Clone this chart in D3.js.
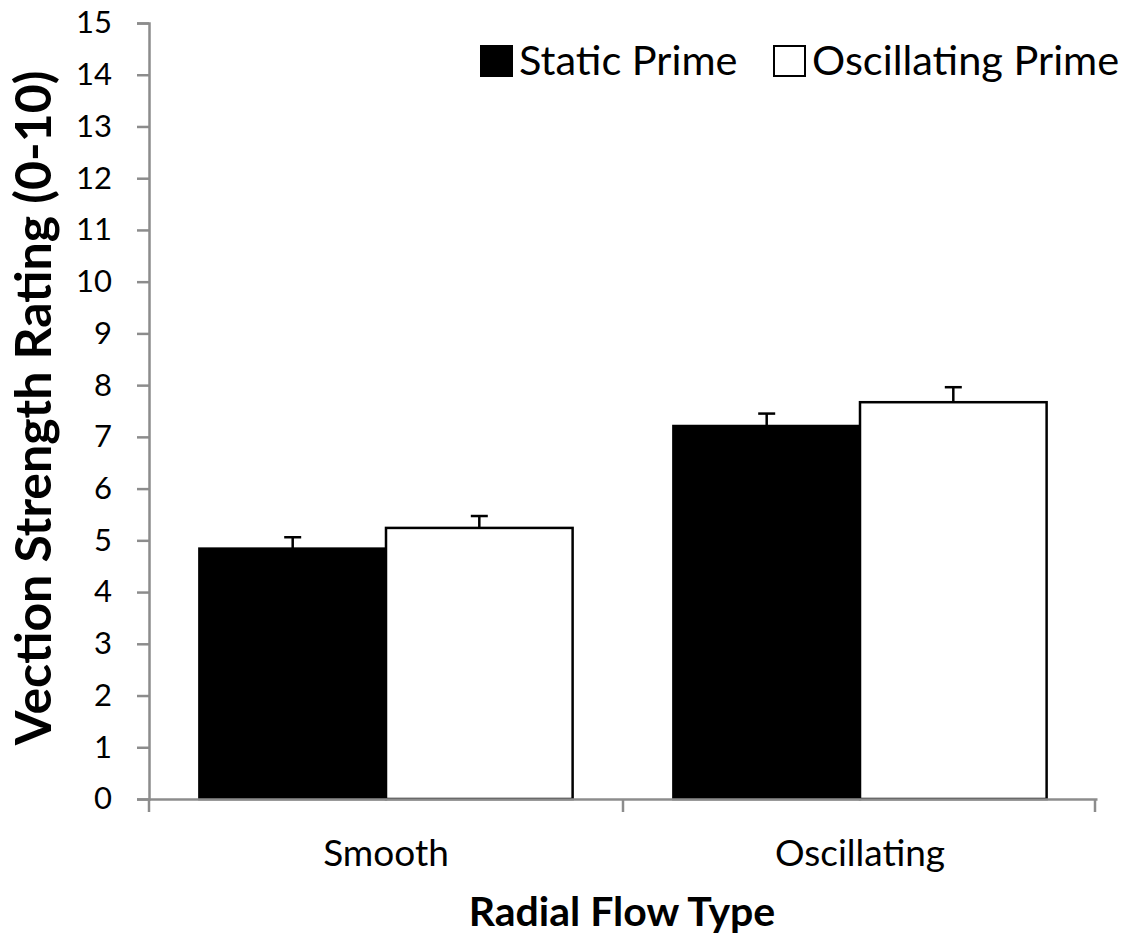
<!DOCTYPE html>
<html><head><meta charset="utf-8">
<script src="https://cdn.jsdelivr.net/npm/d3@7"></script>
<style>body{margin:0;background:#fff}</style>
</head><body>
<svg id="chart" width="1140" height="936"></svg>
<script>
const categories = ["Smooth", "Oscillating"];
const seriesNames = ["Static Prime", "Oscillating Prime"];
const staticPrime = [4.84, 7.21];
const oscillatingPrime = [5.24, 7.67];
const staticErr = [0.22, 0.24];
const oscillatingErr = [0.23, 0.29];
const yTicks = d3.range(0, 16, 1);

const font = "Lato, 'Open Sans', sans-serif";
const svg = d3.select("#chart");
const x0 = 149, x1 = 1097, yTop = 23, yBot = 799;

const x = d3.scaleBand().domain(categories).range([x0, x1]).paddingInner(0).paddingOuter(0);
const xs = d3.scaleBand().domain(seriesNames).range([0, x.bandwidth()]).paddingInner(0).paddingOuter(0.27);
const y = d3.scaleLinear().domain([0, 15]).range([yBot, yTop]);

const axisColor = "#8c8c8c";
// y axis
const yAxis = svg.append("g").attr("transform", `translate(${x0},0)`)
  .call(d3.axisLeft(y).tickValues(yTicks).tickSize(12).tickPadding(25).tickFormat(d3.format("d")));
yAxis.select(".domain").attr("stroke", axisColor).attr("stroke-width", 2.5);
yAxis.selectAll(".tick line").attr("stroke", axisColor).attr("stroke-width", 2.5);
yAxis.selectAll("text").attr("font-family", font).attr("font-size", 31).attr("fill", "#000");

const data = categories.map((c, i) => ({cat: c, vals: [
  {s: seriesNames[0], v: staticPrime[i], e: staticErr[i]},
  {s: seriesNames[1], v: oscillatingPrime[i], e: oscillatingErr[i]}]}));

const groups = svg.selectAll(".grp").data(data).enter().append("g")
  .attr("transform", d => `translate(${x(d.cat)},0)`);
// error bars (upper only)
groups.selectAll(".err").data(d => d.vals).enter().append("g").each(function(d) {
  const g = d3.select(this);
  const cx = xs(d.s) + xs.bandwidth() / 2;
  g.append("line").attr("x1", cx).attr("x2", cx).attr("y1", y(d.v)).attr("y2", y(d.v + d.e))
    .attr("stroke", "#000").attr("stroke-width", 2.5);
  g.append("line").attr("x1", cx - 8.5).attr("x2", cx + 8.5).attr("y1", y(d.v + d.e)).attr("y2", y(d.v + d.e))
    .attr("stroke", "#000").attr("stroke-width", 2.5);
});
groups.selectAll("rect").data(d => d.vals).enter().append("rect")
  .attr("x", d => xs(d.s)).attr("width", xs.bandwidth())
  .attr("y", d => y(d.v)).attr("height", d => y(0) - y(d.v))
  .attr("fill", d => d.s === seriesNames[0] ? "#000" : "#fff")
  .attr("stroke", "#000").attr("stroke-width", 2.5);

// x axis
const xAxis = svg.append("g").attr("transform", `translate(0,${yBot})`)
  .call(d3.axisBottom(x).tickSize(0).tickPadding(41));
xAxis.select(".domain").attr("stroke", axisColor).attr("stroke-width", 2.5);
xAxis.selectAll("text").attr("font-family", font).attr("font-size", 37).attr("fill", "#000");
// category boundary ticks
const bounds = [x0, x(categories[1]), x1 - 2];
svg.append("g").selectAll("line").data(bounds).enter().append("line")
  .attr("x1", d => d).attr("x2", d => d).attr("y1", yBot).attr("y2", yBot + 13)
  .attr("stroke", axisColor).attr("stroke-width", 2.5);

// axis titles
svg.append("text").attr("transform", `translate(51,${408}) rotate(-90)`)
  .attr("text-anchor", "middle").attr("font-family", font).attr("font-weight", "bold")
  .attr("font-size", 50).text("Vection Strength Rating (0-10)");
svg.append("text").attr("x", 622).attr("y", 926).attr("text-anchor", "middle")
  .attr("font-family", font).attr("font-weight", "bold").attr("font-size", 41).text("Radial Flow Type");

// legend
const legendX = [481, 774];
const leg = svg.append("g");
seriesNames.forEach((s, i) => {
  leg.append("rect").attr("x", legendX[i]).attr("y", 46).attr("width", 31).attr("height", 30)
    .attr("fill", i === 0 ? "#000" : "#fff").attr("stroke", "#000").attr("stroke-width", 2);
  leg.append("text").attr("x", legendX[i] + 38).attr("y", 75).attr("font-family", font)
    .attr("font-size", 41.5).text(s);
});
</script>
</body></html>
